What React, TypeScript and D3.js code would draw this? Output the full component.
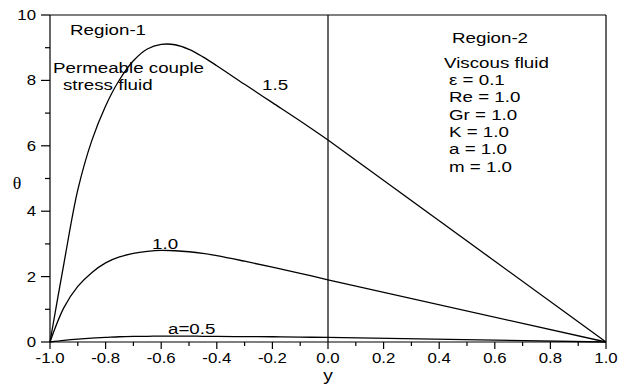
import * as d3 from 'd3'

// region-1 samples (y from -1 to 0), region-2 is a straight line from y=0 to y=1
const yRegion1 = [-1, -0.95, -0.9, -0.85, -0.8, -0.75, -0.7, -0.65, -0.6, -0.55, -0.5, -0.45, -0.4, -0.3, -0.2, -0.1, 0];
const theta15 = [0, 2.4, 4.65, 6.15, 7.22, 8.02, 8.6, 8.96, 9.1, 9.09, 8.95, 8.72, 8.45, 7.88, 7.32, 6.76, 6.18];
const theta10 = [0, 1.05, 1.7, 2.12, 2.42, 2.6, 2.71, 2.77, 2.8, 2.79, 2.76, 2.71, 2.64, 2.47, 2.29, 2.1, 1.9];
const theta05 = [0, 0.05, 0.09, 0.12, 0.14, 0.16, 0.17, 0.175, 0.18, 0.18, 0.18, 0.175, 0.17, 0.165, 0.16, 0.15, 0.14];
const series = [theta15, theta10, theta05];

const xTicks = [-1.0, -0.8, -0.6, -0.4, -0.2, 0.0, 0.2, 0.4, 0.6, 0.8, 1.0];
const xMinor = [-0.9, -0.7, -0.5, -0.3, -0.1, 0.1, 0.3, 0.5, 0.7, 0.9];
const yTicks = [0, 2, 4, 6, 8, 10];
const yMinor = [1, 3, 5, 7, 9];

const params = ['\u03b5 = 0.1', 'Re = 1.0', 'Gr = 1.0', 'K = 1.0', 'a = 1.0', 'm = 1.0'];

const W = 631, H = 387;
const margin = { top: 15, right: 25, bottom: 45, left: 50 };
const FONT = '"Liberation Sans", Arial, sans-serif';

const T = ({ x, y, size = 15, anchor = 'start', sx = 1.25, family = FONT, children }: any) => (
  <text transform={`translate(${x},${y}) scale(${sx},1)`} fontSize={size} textAnchor={anchor} fontFamily={family} fill="#000">
    {children}
  </text>
);

export default function App() {
  const x = d3.scaleLinear().domain([-1, 1]).range([margin.left, W - margin.right]);
  const y = d3.scaleLinear().domain([0, 10]).range([H - margin.bottom, margin.top]);
  const line = d3.line<number>().x((_, i) => x(yRegion1[i])).y(d => y(d)).curve(d3.curveCatmullRom.alpha(0.5));
  const x0 = x.range()[0], x1 = x.range()[1], yb = y.range()[0], yt = y.range()[1];

  return (
    <svg width={W} height={H} style={{ position: 'absolute', left: 0, top: 0, background: '#fff' }}>
      {/* frame */}
      <line x1={x0} x2={x1} y1={yt} y2={yt} stroke="#000" strokeWidth={1.2} />
      <line x1={x1} x2={x1} y1={yt} y2={yb} stroke="#000" strokeWidth={1.2} />
      <line x1={x(0)} x2={x(0)} y1={yt} y2={yb} stroke="#000" strokeWidth={1.2} />
      <line x1={x0} x2={x0} y1={yt} y2={yb} stroke="#000" strokeWidth={1.2} />
      <line x1={x0} x2={x1} y1={yb} y2={yb} stroke="#000" strokeWidth={1.2} />

      {/* x axis */}
      {xTicks.map(t => (
        <g key={'x' + t}>
          <line x1={x(t)} x2={x(t)} y1={yb} y2={yb + 7} stroke="#000" strokeWidth={1.2} />
          <T x={x(t)} y={yb + 21} size={14} anchor="middle" sx={1.2}>{t.toFixed(1)}</T>
        </g>
      ))}
      {xMinor.map(t => (
        <line key={'xm' + t} x1={x(t)} x2={x(t)} y1={yb} y2={yb + 4} stroke="#000" strokeWidth={1.2} />
      ))}

      {/* y axis */}
      {yTicks.map(t => (
        <g key={'y' + t}>
          <line x1={x0 - 9} x2={x0} y1={y(t)} y2={y(t)} stroke="#000" strokeWidth={1.2} />
          <T x={x0 - 14} y={y(t) + 5} size={14} anchor="end" sx={1.2}>{t}</T>
        </g>
      ))}
      {yMinor.map(t => (
        <line key={'ym' + t} x1={x0 - 5} x2={x0} y1={y(t)} y2={y(t)} stroke="#000" strokeWidth={1.2} />
      ))}

      {/* curves */}
      {series.map((s, i) => (
        <g key={'s' + i}>
          <path d={line(s) ?? ''} fill="none" stroke="#000" strokeWidth={1.3} />
          <line x1={x(0)} y1={y(s[s.length - 1])} x2={x(1)} y2={y(0)} stroke="#000" strokeWidth={1.3} />
        </g>
      ))}

      {/* axis titles */}
      <T x={x(0)} y={yb + 39} size={16} anchor="middle" sx={1.2}>y</T>
      <T x={17} y={189} size={17} anchor="middle" sx={1.05} family='"Liberation Serif", "Times New Roman", serif'>θ</T>

      {/* annotations */}
      <T x={70} y={35}>Region-1</T>
      <T x={53} y={73}>Permeable couple</T>
      <T x={63} y={90}>stress fluid</T>
      <T x={262} y={90}>1.5</T>
      <T x={152} y={249}>1.0</T>
      <T x={168} y={334}>a=0.5</T>

      <T x={452} y={43}>Region-2</T>
      <T x={444} y={68}>Viscous fluid</T>
      {params.map((p, i) => (
        <T key={p} x={449} y={85 + i * 17.3}>{p}</T>
      ))}
    </svg>
  );
}
